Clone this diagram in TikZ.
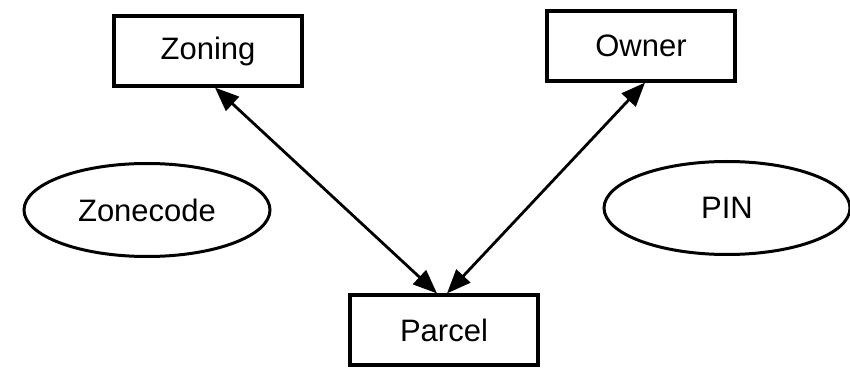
\documentclass[tikz,border=0pt]{standalone}
\usepackage{fontspec}
\setmainfont{Liberation Sans}
\usetikzlibrary{shapes.geometric,arrows.meta}
\begin{document}
\begin{tikzpicture}[x=1pt,y=-1pt,
  entbox/.style={draw,line width=3.2pt,rectangle,minimum width=188pt,minimum height=70pt,inner sep=0pt,font=\fontsize{31}{36}\selectfont},
  attr/.style={draw,line width=3pt,ellipse,minimum width=246pt,minimum height=93pt,inner sep=0pt,font=\fontsize{31}{36}\selectfont},
  rel/.style={line width=2.8pt,{Triangle[length=24pt,width=19pt]}-{Triangle[length=24pt,width=19pt]}}]
\useasboundingbox (0,0) rectangle (850,371);
\node[entbox] (zoning) at (208,51) {Zoning};
\node[entbox] (owner) at (641,46) {Owner};
\node[entbox] (parcel) at (444,330) {Parcel};
\node[attr] (zonecode) at (147,210) {Zonecode};
\node[attr] (pin) at (727,208) {PIN};
\draw[rel] ([xshift=7pt]zoning.south) -- ([xshift=-7pt]parcel.north);
\draw[rel] ([xshift=4pt]owner.south) -- ([xshift=3pt]parcel.north);
\end{tikzpicture}
\end{document}
